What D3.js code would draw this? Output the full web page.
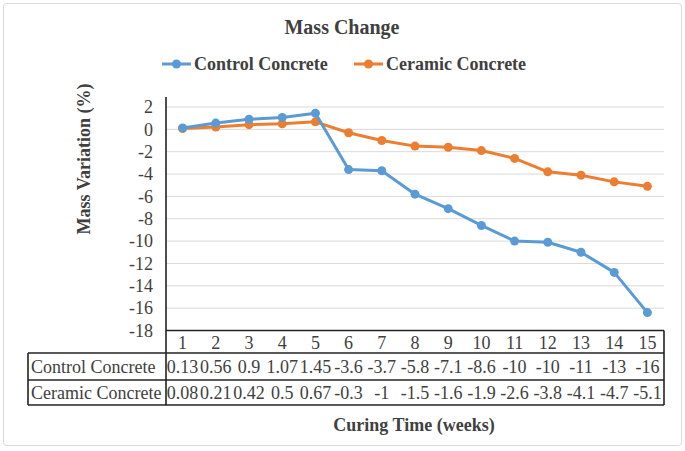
<!DOCTYPE html>
<html>
<head>
<meta charset="utf-8">
<script src="https://cdn.jsdelivr.net/npm/d3@7"></script>
<style>
  body { margin: 0; background: #fff; }
  text { font-family: "Liberation Serif", "Times New Roman", serif; }
</style>
</head>
<body>
<div id="chart"></div>
<script>
// data
var weeks = [1, 2, 3, 4, 5, 6, 7, 8, 9, 10, 11, 12, 13, 14, 15];
var controlValues = [0.13, 0.56, 0.9, 1.07, 1.45, -3.6, -3.7, -5.8, -7.1, -8.6, -10.0, -10.1, -11.0, -12.8, -16.4];
var ceramicValues = [0.08, 0.21, 0.42, 0.5, 0.67, -0.3, -1, -1.5, -1.6, -1.9, -2.6, -3.8, -4.1, -4.7, -5.1];
var controlLabels = ["0.13", "0.56", "0.9", "1.07", "1.45", "-3.6", "-3.7", "-5.8", "-7.1", "-8.6", "-10", "-10", "-11", "-13", "-16"];
var ceramicLabels = ["0.08", "0.21", "0.42", "0.5", "0.67", "-0.3", "-1", "-1.5", "-1.6", "-1.9", "-2.6", "-3.8", "-4.1", "-4.7", "-5.1"];
var yTicks = [2, 0, -2, -4, -6, -8, -10, -12, -14, -16, -18];

var svgWidth = 685;
var svgHeight = 451;

var plot = { left: 166, right: 664, top: 107, bottom: 330.5 };
var tableLeft = 28;
var rowLines = [353, 380, 405];

var svg = d3.select("#chart")
  .append("svg")
  .attr("width", svgWidth)
  .attr("height", svgHeight);

// chart border
svg.append("rect")
  .attr("x", 3.5).attr("y", 3.5)
  .attr("width", 678).attr("height", 442)
  .attr("rx", 3)
  .attr("fill", "#fff")
  .attr("stroke", "#d9d9d9");

var x = d3.scaleBand()
  .domain(weeks)
  .range([plot.left, plot.right]);

var y = d3.scaleLinear()
  .domain([-18, 2])
  .range([plot.bottom, plot.top]);

// gridlines
svg.append("g")
  .selectAll("line")
  .data(yTicks)
  .enter()
  .append("line")
  .attr("x1", plot.left)
  .attr("x2", plot.right)
  .attr("y1", d => y(d))
  .attr("y2", d => y(d))
  .attr("stroke", "#d9d9d9")
  .attr("stroke-width", 1);

// y axis labels
var leftAxis = d3.axisLeft(y)
  .tickValues(yTicks)
  .tickFormat(d => String(d))
  .tickSize(0)
  .tickPadding(13);
var yAxis = svg.append("g")
  .attr("transform", `translate(${plot.left},0)`)
  .call(leftAxis)
  .attr("font-family", "Liberation Serif")
  .attr("font-size", 18);
yAxis.select(".domain").remove();
yAxis.selectAll("text")
  .attr("fill", "#404040");

// lines
var line = d3.line()
  .x((d, i) => x(weeks[i]) + x.bandwidth() / 2)
  .y(d => y(d));

var series = [
  { values: controlValues, color: "#5b9bd5" },
  { values: ceramicValues, color: "#ed7d31" }
];

series.slice().reverse().forEach(s => {
  svg.append("path")
    .datum(s.values)
    .attr("fill", "none")
    .attr("stroke", s.color)
    .attr("stroke-width", 3)
    .attr("stroke-linejoin", "round")
    .attr("d", line);
  svg.append("g")
    .selectAll("circle")
    .data(s.values)
    .enter()
    .append("circle")
    .attr("cx", (d, i) => x(weeks[i]) + x.bandwidth() / 2)
    .attr("cy", d => y(d))
    .attr("r", 4.5)
    .attr("fill", s.color);
});

// table lines
var table = svg.append("g")
  .attr("stroke", "#222")
  .attr("stroke-width", 1.6)
  .attr("fill", "none");

table.append("line")
  .attr("x1", plot.left).attr("x2", plot.left)
  .attr("y1", 97).attr("y2", rowLines[2]);
table.append("line")
  .attr("x1", plot.left).attr("x2", plot.right)
  .attr("y1", plot.bottom).attr("y2", plot.bottom);
table.append("line")
  .attr("x1", plot.right).attr("x2", plot.right)
  .attr("y1", plot.bottom).attr("y2", rowLines[2]);
table.append("line")
  .attr("x1", tableLeft).attr("x2", tableLeft)
  .attr("y1", rowLines[0]).attr("y2", rowLines[2]);
rowLines.forEach(r => {
  table.append("line")
    .attr("x1", tableLeft).attr("x2", plot.right)
    .attr("y1", r).attr("y2", r);
});

// table text
function tableRow(labels, baseline) {
  svg.append("g")
    .selectAll("text")
    .data(labels)
    .enter()
    .append("text")
    .attr("x", (d, i) => x(weeks[i]) + x.bandwidth() / 2)
    .attr("y", baseline)
    .attr("text-anchor", "middle")
    .attr("font-size", 18)
    .attr("fill", "#404040")
    .text(d => d);
}
tableRow(weeks.map(String), 349);
tableRow(controlLabels, 373);
tableRow(ceramicLabels, 399);

svg.append("text")
  .attr("x", 31).attr("y", 373)
  .attr("font-size", 18).attr("fill", "#404040")
  .text("Control Concrete");
svg.append("text")
  .attr("x", 31).attr("y", 399)
  .attr("font-size", 18).attr("fill", "#404040")
  .text("Ceramic Concrete");

// title
svg.append("text")
  .attr("x", 342).attr("y", 34)
  .attr("text-anchor", "middle")
  .attr("font-size", 20)
  .attr("font-weight", "bold")
  .attr("fill", "#404040")
  .text("Mass Change");

// legend
var legendItems = [
  { name: "Control Concrete", color: "#5b9bd5", x: 162 },
  { name: "Ceramic Concrete", color: "#ed7d31", x: 354 }
];
legendItems.forEach(item => {
  var g = svg.append("g").attr("transform", `translate(${item.x},64)`);
  g.append("line")
    .attr("x1", 0).attr("x2", 29)
    .attr("stroke", item.color).attr("stroke-width", 3);
  g.append("circle")
    .attr("cx", 14.5).attr("r", 4.5).attr("fill", item.color);
  g.append("text")
    .attr("x", 32).attr("y", 6)
    .attr("font-size", 18)
    .attr("font-weight", "bold")
    .attr("fill", "#404040")
    .text(item.name);
});

// axis titles
svg.append("text")
  .attr("transform", "translate(90,159) rotate(-90)")
  .attr("text-anchor", "middle")
  .attr("font-size", 18)
  .attr("font-weight", "bold")
  .attr("fill", "#404040")
  .text("Mass Variation (%)");

svg.append("text")
  .attr("x", 414).attr("y", 431)
  .attr("text-anchor", "middle")
  .attr("font-size", 18)
  .attr("font-weight", "bold")
  .attr("fill", "#404040")
  .text("Curing Time (weeks)");
</script>
</body>
</html>
